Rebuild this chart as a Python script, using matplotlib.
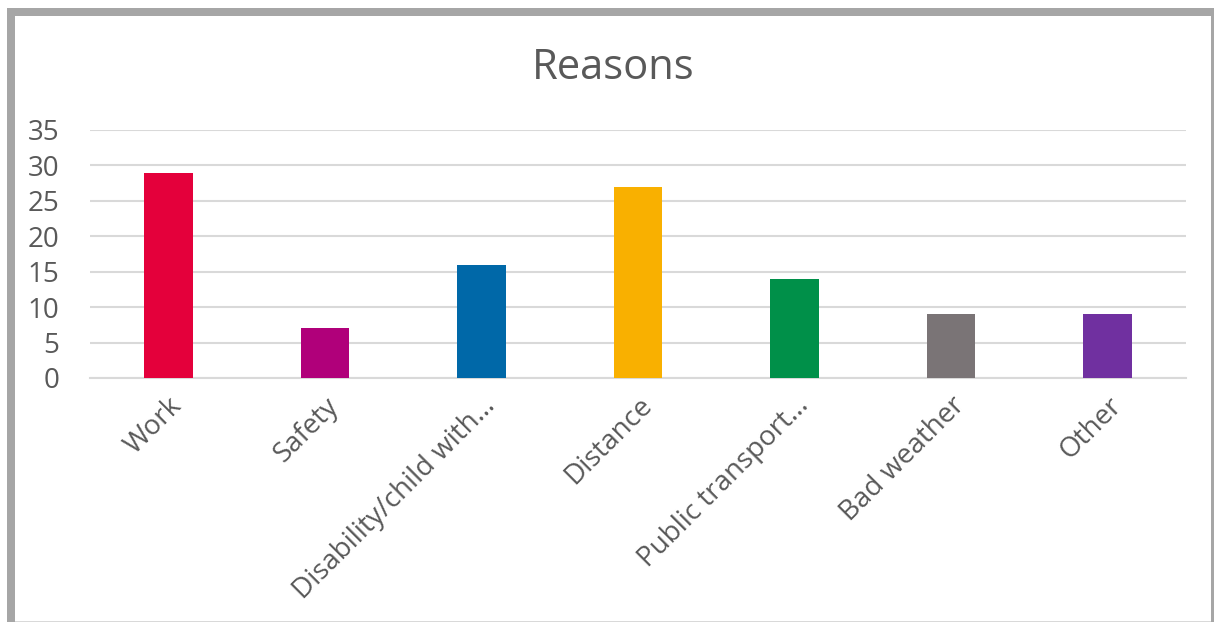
import matplotlib.pyplot as plt
from matplotlib.patches import Rectangle

# chart data
categories = ['Work', 'Safety', 'Disability/child with\u2026', 'Distance',
              'Public transport\u2026', 'Bad weather', 'Other']
values = [29, 7, 16, 27, 14, 9, 9]
colors = ['#E4003B', '#B0007A', '#0068A8', '#F9B000', '#009049', '#7A7476', '#7030A0']
yticks = [0, 5, 10, 15, 20, 25, 30, 35]

W, H = 1214, 622
plt.rcParams['font.family'] = ['Open Sans', 'DejaVu Sans']
text_color = '#595959'

fig = plt.figure(figsize=(W / 100, H / 100), dpi=100)
fig.patch.set_facecolor('white')

# axes placed by pixel edges
left, right, top, bottom = 90, 1186, 130, 378
ax = fig.add_axes([left / W, 1 - bottom / H, (right - left) / W, (bottom - top) / H])

x = range(len(categories))
ax.bar(x, values, width=0.31, color=colors, zorder=3)

ax.set_xlim(-0.5, len(categories) - 0.5)
ax.set_ylim(0, 35)
ax.set_yticks(yticks)
ax.set_yticklabels([str(t) for t in yticks], fontsize=20, color=text_color)
ax.yaxis.grid(True, color='#D9D9D9', linewidth=1.5, zorder=0)
ax.tick_params(axis='y', length=0, pad=22)
ax.tick_params(axis='x', length=0, pad=10)

ax.set_xticks(list(x))
ax.set_xticklabels(categories, fontsize=20, color=text_color, rotation=45,
                   ha='right', va='top', rotation_mode='anchor')

for side in ['top', 'right', 'left']:
    ax.spines[side].set_visible(False)
ax.spines['bottom'].set_color('#D9D9D9')
ax.spines['bottom'].set_linewidth(1.5)

fig.text(613 / W, 1 - 68 / H, 'Reasons', fontsize=30, color=text_color,
         ha='center', va='center')

# outer frame of the chart box
border = '#A6A6A6'
fig.add_artist(Rectangle((7 / W, 0), 8 / W, 1 - 8 / H, transform=fig.transFigure,
                         color=border, lw=0))
fig.add_artist(Rectangle((7 / W, 1 - 16 / H), (1214 - 7) / W, 8 / H,
                         transform=fig.transFigure, color=border, lw=0))
fig.add_artist(Rectangle((1211 / W, 0), 3 / W, 1 - 8 / H, transform=fig.transFigure,
                         color=border, lw=0))
fig.add_artist(Rectangle((15 / W, 0), 1196 / W, 1.5 / H, transform=fig.transFigure,
                         color='#D9D9D9', lw=0))

fig.savefig('out.png', dpi=100)
